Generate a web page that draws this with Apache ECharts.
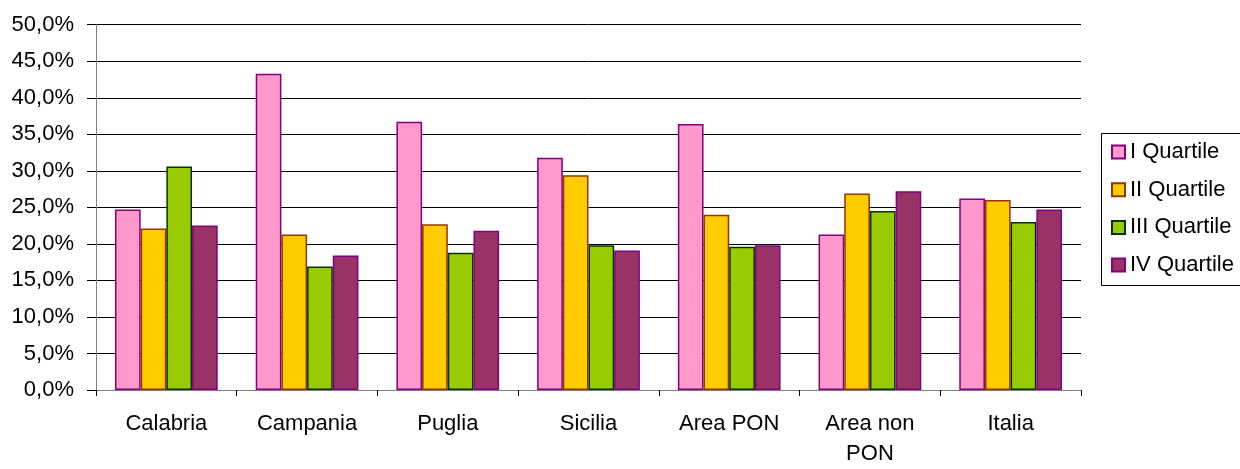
<!DOCTYPE html>
<html><head><meta charset="utf-8">
<script src="https://cdn.jsdelivr.net/npm/echarts@6/dist/echarts.min.js"></script>
<style>html,body{margin:0;padding:0;background:#fff}#c{width:1240px;height:469px}</style>
</head><body><div id="c"></div>
<script>
const categories = ['Calabria','Campania','Puglia','Sicilia','Area PON','Area non\nPON','Italia'];
const seriesNames = ['I Quartile','II Quartile','III Quartile','IV Quartile'];
const q1 = [24.7, 43.3, 36.7, 31.8, 36.4, 21.3, 26.2];
const q2 = [22.1, 21.3, 22.7, 29.4, 24.0, 26.9, 26.0];
const q3 = [30.6, 16.9, 18.8, 19.8, 19.6, 24.5, 23.0];
const q4 = [22.5, 18.4, 21.8, 19.1, 19.8, 27.2, 24.7];
const fills = ['#FF99CC','#FFCC00','#99CC00','#993366'];
const borders = ['#800080','#993300','#003300','#800080'];
const data = [q1,q2,q3,q4];
const font = 'Liberation Sans, Arial, sans-serif';
const chart = echarts.init(document.getElementById('c'), null, {renderer:'canvas'});
chart.setOption({
  animation:false,
  backgroundColor:'#fff',
  grid:{left:96,right:159,top:24.7,bottom:75,containLabel:false},
  graphic:[{
    type:'rect', left:1101, top:133, z:-1,
    shape:{width:200,height:152},
    style:{fill:'#fff',stroke:'#000',lineWidth:1}
  }],
  legend:{
    orient:'vertical', left:1101, top:133,
    padding:[8,10,9,10], itemGap:15.7, itemWidth:13, itemHeight:13,
    icon:'rect',
    textStyle:{fontFamily:font,fontSize:22,lineHeight:22,color:'#000'},
    data:seriesNames
  },
  xAxis:{
    type:'category', data:categories,
    axisLine:{lineStyle:{color:'#808080',width:1}},
    axisTick:{show:true,alignWithLabel:false,length:6,lineStyle:{color:'#000'}},
    axisLabel:{fontFamily:font,fontSize:22,color:'#000',margin:19,lineHeight:30}
  },
  yAxis:{
    type:'value', min:0, max:50, interval:5,
    axisLine:{show:true,lineStyle:{color:'#808080',width:1}},
    axisTick:{show:true,length:9,lineStyle:{color:'#000'}},
    splitLine:{lineStyle:{color:'#000',width:1}},
    axisLabel:{fontFamily:font,fontSize:22,color:'#000',margin:22,
      formatter:v=>v.toFixed(1).replace('.',',')+'%'}
  },
  series:data.map((d,i)=>({
    name:seriesNames[i], type:'bar', data:d,
    barGap:'0%', barCategoryGap:'27%',
    itemStyle:{color:fills[i],borderColor:borders[i],borderWidth:1.5}
  }))
});
</script></body></html>
